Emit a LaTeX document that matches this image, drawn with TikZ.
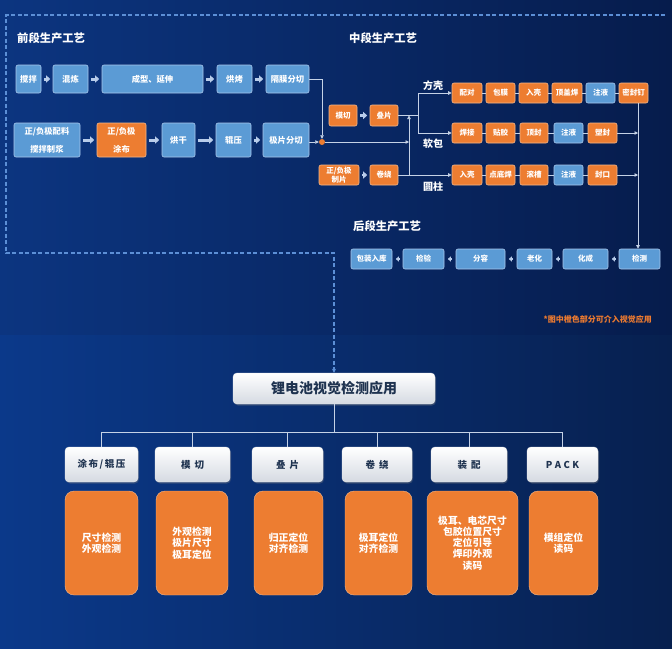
\documentclass[tikz,border=0pt]{standalone}
\usepackage{fontspec}
\setmainfont{Noto Sans CJK SC}
\usetikzlibrary{arrows.meta,calc,shadows}
\definecolor{bxblue}{HTML}{5B9BD5}
\definecolor{bxblueline}{HTML}{A9C8EC}
\definecolor{bxorange}{HTML}{ED7D31}
\definecolor{bxorangeline}{HTML}{F5B88A}
\definecolor{lnc}{HTML}{C5D2E6}
\definecolor{fatc}{HTML}{B8CCEA}
\definecolor{dashc}{HTML}{5C8FD6}
\definecolor{navytxt}{HTML}{1F3350}
\definecolor{noteorange}{HTML}{EE7B30}
\definecolor{bgTL}{HTML}{0C3580}
\definecolor{bgTM}{HTML}{0A52BA}
\definecolor{bgTR}{HTML}{061C4C}
\definecolor{bgBL}{HTML}{0B398A}
\definecolor{bgBM}{HTML}{0854C0}
\definecolor{bgBR}{HTML}{07204F}
\definecolor{wboxbot}{HTML}{D5DAE2}
\tikzset{
  base/.style={rounded corners=2pt, inner sep=0pt, align=center, text=white,
    font=\fontsize{8.3}{10}\selectfont\bfseries, line width=0.6pt},
  bbox/.style={base, fill=bxblue, draw=bxblueline},
  obox/.style={base, fill=bxorange, draw=bxorangeline},
  sm/.style={font=\fontsize{7.5}{9.5}\selectfont\bfseries},
  tall/.style={font=\fontsize{8.3}{18}\selectfont\bfseries},
  title/.style={anchor=west, text=white, inner sep=0pt, font=\fontsize{11.3}{13}\selectfont\bfseries},
  lab/.style={anchor=west, text=white, inner sep=0pt, font=\fontsize{10}{12}\selectfont\bfseries},
  fat/.style={draw=fatc, line width=3pt, -{Triangle[length=4pt,width=7pt]}, shorten <=2.5pt, shorten >=2.5pt},
  thinl/.style={draw=lnc, line width=0.7pt},
  tarr/.style={thinl, -{Triangle[length=3.5pt,width=3.5pt]}},
  barr/.style={draw=fatc, line width=1.6pt, -{Triangle[length=3pt,width=5pt]}, shorten <=3.5pt, shorten >=3.5pt},
  dashline/.style={draw=dashc, line width=1.5pt, dash pattern=on 4pt off 2.5pt, -{Stealth[length=4pt,width=4pt]}},
  wbox/.style={rounded corners=4pt, inner sep=0pt, top color=white, bottom color=wboxbot, draw=white!85!gray, line width=0.4pt,
    text=navytxt, font=\fontsize{9.5}{11}\selectfont\bfseries, drop shadow={opacity=0.35, shadow xshift=1pt, shadow yshift=-1.5pt}},
  obig/.style={rounded corners=9pt, inner sep=0pt, fill=bxorange, draw=bxorangeline, line width=0.4pt, align=center,
    text=white, font=\fontsize{9.8}{11.3}\selectfont\bfseries}
}
\begin{document}
\begin{tikzpicture}[x=1pt,y=-1pt]
\useasboundingbox (0,0) rectangle (672,648);
\shade[left color=bgTL, middle color=bgTM, right color=bgTR] (0,0) rectangle (672,335);
\shade[left color=bgBL, middle color=bgBM, right color=bgBR] (0,335) rectangle (672,648);

% titles
\node[title] (t1) at (17,38) {前段生产工艺};
\node[title] (t2) at (349,38) {中段生产工艺};
\node[title] (t3) at (353,226) {后段生产工艺};

% front row 1
\node[bbox, minimum width=25pt, minimum height=28pt] (a1) at (28.5,79) {搅拌};
\node[bbox, minimum width=35pt, minimum height=28pt] (a2) at (70.5,79) {混炼};
\node[bbox, minimum width=101pt, minimum height=28pt] (a3) at (152.5,79) {成型、延伸};
\node[bbox, minimum width=35pt, minimum height=28pt] (a4) at (234.5,79) {烘烤};
\node[bbox, minimum width=43pt, minimum height=28pt] (a5) at (287.5,79) {隔膜分切};
% front row 2
\node[bbox, tall, minimum width=66pt, minimum height=34pt] (b1) at (47,140) {正/负极配料\\搅拌制浆};
\node[obox, tall, minimum width=49pt, minimum height=34pt] (b2) at (121.5,140) {正/负极\\涂布};
\node[bbox, minimum width=33pt, minimum height=34pt] (b3) at (178.5,140) {烘干};
\node[bbox, minimum width=35pt, minimum height=34pt] (b4) at (233.5,140) {辊压};
\node[bbox, minimum width=46pt, minimum height=34pt] (b5) at (286,140) {极片分切};

\draw[fat] (a1) -- (a2);
\draw[fat] (a2) -- (a3);
\draw[fat] (a3) -- (a4);
\draw[fat] (a4) -- (a5);
\draw[fat] (b1) -- (b2);
\draw[fat] (b2) -- (b3);
\draw[fat] (b3) -- (b4);
\draw[fat] (b4) -- (b5);

\node[circle, fill=bxorange, inner sep=0pt, minimum size=6pt] (dot) at (322,142) {};
\draw[tarr] (a5.east) -| (dot.north);
\draw[tarr] (b5.east |- dot) -- (dot.west);

% middle section
\node[obox, sm, minimum width=28pt, minimum height=21pt] (m1) at (343,115.5) {模切};
\node[obox, sm, minimum width=28pt, minimum height=21pt] (m2) at (384,115.5) {叠片};
\node[obox, font=\fontsize{7.5}{9}\selectfont\bfseries, minimum width=40pt, minimum height=20pt] (m3) at (339,175) {正/负极\\制片};
\node[obox, sm, minimum width=28pt, minimum height=20pt] (m4) at (384,175) {卷绕};
\draw[fat, line width=2.5pt] (m1) -- (m2);
\draw[fat, line width=2.5pt] (m3) -- (m4);

\coordinate (j1) at (409,115.5);
\coordinate (j3) at (409,175);
\coordinate (br) at (418,115.5);
\draw[tarr] (dot.east) -- (dot -| j1);
\draw[tarr] (j3) -- (j1);
\draw[thinl] (m2.east) -- (br);

% 方壳
\node[obox, sm, minimum width=30pt, minimum height=20pt] (f1) at (467,93) {配对};
\node[obox, sm, minimum width=29pt, minimum height=20pt] (f2) at (500.5,93) {包膜};
\node[obox, sm, minimum width=29pt, minimum height=20pt] (f3) at (533.5,93) {入壳};
\node[obox, sm, minimum width=30pt, minimum height=20pt] (f4) at (567,93) {顶盖焊};
\node[bbox, sm, minimum width=29pt, minimum height=20pt] (f5) at (600.5,93) {注液};
\node[obox, sm, minimum width=29pt, minimum height=20pt] (f6) at (633.5,93) {密封钉};
% 软包
\node[obox, sm, minimum width=30pt, minimum height=20pt] (r1) at (467,133) {焊接};
\node[obox, sm, minimum width=29pt, minimum height=20pt] (r2) at (500.5,133) {贴胶};
\node[obox, sm, minimum width=28pt, minimum height=20pt] (r3) at (534,133) {顶封};
\node[bbox, sm, minimum width=29pt, minimum height=20pt] (r4) at (568.5,133) {注液};
\node[obox, sm, minimum width=29pt, minimum height=20pt] (r5) at (602.5,133) {塑封};
% 圆柱
\node[obox, sm, minimum width=30pt, minimum height=20pt] (c1) at (467,175) {入壳};
\node[obox, sm, minimum width=29pt, minimum height=20pt] (c2) at (500.5,175) {点底焊};
\node[obox, sm, minimum width=28pt, minimum height=20pt] (c3) at (534,175) {滚槽};
\node[bbox, sm, minimum width=29pt, minimum height=20pt] (c4) at (568.5,175) {注液};
\node[obox, sm, minimum width=29pt, minimum height=20pt] (c5) at (602.5,175) {封口};

\draw[thinl] (br |- f1) -- (br |- r1);
\draw[tarr] (br |- f1) -- (f1.west);
\draw[tarr] (br |- r1) -- (r1.west);
\draw[tarr] (m4.east) -- (c1.west);

\node[lab] (l1) at (423,86) {方壳};
\node[lab] (l2) at (423,144) {软包};
\node[lab] (l3) at (423,187) {圆柱};

\draw[thinl] (f1.east) -- (f2.west);
\draw[thinl] (f2.east) -- (f3.west);
\draw[thinl] (f3.east) -- (f4.west);
\draw[thinl] (f4.east) -- (f5.west);
\draw[thinl] (f5.east) -- (f6.west);
\draw[thinl] (r1.east) -- (r2.west);
\draw[thinl] (r2.east) -- (r3.west);
\draw[thinl] (r3.east) -- (r4.west);
\draw[thinl] (r4.east) -- (r5.west);
\draw[thinl] (c1.east) -- (c2.west);
\draw[thinl] (c2.east) -- (c3.west);
\draw[thinl] (c3.east) -- (c4.west);
\draw[thinl] (c4.east) -- (c5.west);

% back section
\node[bbox, sm, minimum width=41pt, minimum height=20pt] (k1) at (371.5,259) {包装入库};
\node[bbox, sm, minimum width=41pt, minimum height=20pt] (k2) at (423.5,259) {检验};
\node[bbox, sm, minimum width=49pt, minimum height=20pt] (k3) at (480.5,259) {分容};
\node[bbox, sm, minimum width=35pt, minimum height=20pt] (k4) at (534.5,259) {老化};
\node[bbox, sm, minimum width=45pt, minimum height=20pt] (k5) at (585.5,259) {化成};
\node[bbox, sm, minimum width=41pt, minimum height=20pt] (k6) at (639.5,259) {检测};
\draw[barr] (k6) -- (k5);
\draw[barr] (k5) -- (k4);
\draw[barr] (k4) -- (k3);
\draw[barr] (k3) -- (k2);
\draw[barr] (k2) -- (k1);

\coordinate (vx) at (638,0);
\draw[tarr] (f6.south -| vx) -- (k6.north -| vx);
\draw[tarr] (r5.east) -- (r5.east -| vx);
\draw[tarr] (c5.east) -- (c5.east -| vx);

\node[anchor=east, inner sep=0pt, text=noteorange, font=\fontsize{8}{10}\selectfont\bfseries] (note) at (652,319) {*图中橙色部分可介入视觉应用};

% bottom
\node[rounded corners=4pt, inner sep=0pt, top color=white, bottom color=wboxbot, draw=white!85!gray, line width=0.4pt,
  text=navytxt, font=\fontsize{14}{16}\selectfont\bfseries, minimum width=202pt, minimum height=31pt,
  drop shadow={opacity=0.35, shadow xshift=1pt, shadow yshift=-1.5pt}] (main) at (334,388.5) {锂电池视觉检测应用};

\coordinate (d1) at (665,15);
\coordinate (d2) at (6,15);
\coordinate (d3) at (6,253);
\coordinate (d4) at (334,253);
\draw[dashline] (d1) -- (d2) -- (d3) -- (d4) -- (main.north);

\node[wbox, minimum width=73pt, minimum height=35pt] (w1) at (101.5,464.5) {涂\,布\,/\,辊\,压};
\node[wbox, minimum width=75pt, minimum height=35pt] (w2) at (192.5,464.5) {模\hspace{4pt}切};
\node[wbox, minimum width=71pt, minimum height=35pt] (w3) at (287.5,464.5) {叠\hspace{4pt}片};
\node[wbox, minimum width=70pt, minimum height=35pt] (w4) at (377,464.5) {卷\hspace{4pt}绕};
\node[wbox, minimum width=76pt, minimum height=35pt] (w5) at (469,464.5) {装\hspace{4pt}配};
\node[wbox, minimum width=71pt, minimum height=35pt] (w6) at (562.5,464.5) {P\hspace{2.5pt}A\hspace{2.5pt}C\hspace{2.5pt}K};

\coordinate (bus) at (334,432);
\draw[thinl, line width=0.8pt] (main.south) -- (bus);
\draw[thinl, line width=0.8pt] (w1.north |- bus) -- (w6.north |- bus);
\foreach \w in {w1,w2,w3,w4,w5,w6} {\draw[thinl, line width=0.8pt] (\w.north |- bus) -- (\w.north);}

\node[obig, minimum width=73pt, minimum height=104pt] (o1) at (101.5,543) {尺寸检测\\外观检测};
\node[obig, minimum width=72pt, minimum height=104pt] (o2) at (192,543) {外观检测\\极片尺寸\\极耳定位};
\node[obig, minimum width=69pt, minimum height=104pt] (o3) at (288.5,543) {归正定位\\对齐检测};
\node[obig, minimum width=67pt, minimum height=104pt] (o4) at (378.5,543) {极耳定位\\对齐检测};
\node[obig, minimum width=91pt, minimum height=104pt] (o5) at (472.5,543) {极耳、电芯尺寸\\包胶位置尺寸\\定位引导\\焊印外观\\读码};
\node[obig, minimum width=69pt, minimum height=104pt] (o6) at (563.5,543) {模组定位\\读码};
\end{tikzpicture}
\end{document}
